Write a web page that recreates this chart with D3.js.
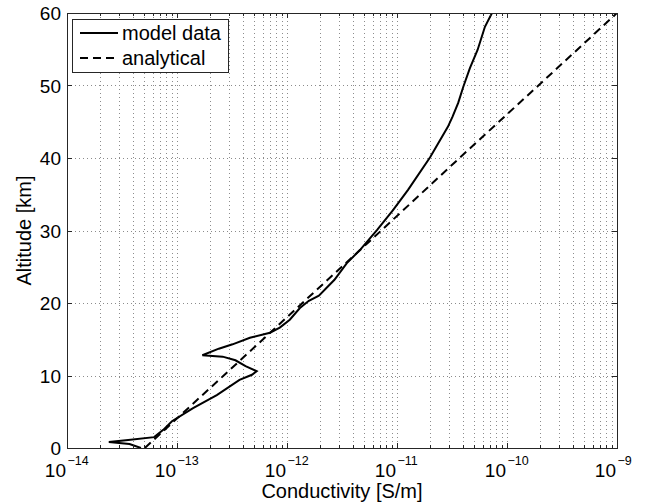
<!DOCTYPE html>
<html>
<head>
<meta charset="utf-8">
<script src="https://cdn.jsdelivr.net/npm/d3@7"></script>
<style>
    body { margin: 0; background: #ffffff; }
    text { font-family: "Liberation Sans", Arial, Helvetica, sans-serif; fill: #000; }
    .grid line { stroke: #8c8c8c; stroke-width: 1; stroke-dasharray: 1,3; }
    .tick line { stroke: #262626; stroke-width: 1; }
    .lineModel { fill: none; stroke: #000; stroke-width: 2; }
    .lineAnalytical { fill: none; stroke: #000; stroke-width: 2; stroke-dasharray: 8,5; }
</style>
</head>
<body>
<div id="graph"></div>
<script>

// model profile (altitude in km, conductivity in S/m)
var modelAlt   = [0, 0.55, 0.83, 1.1, 1.5, 2.5, 3.7, 5.5, 7.3, 9.4, 10.1, 10.6, 11.3, 12.1, 12.6, 12.8,
                  13.7, 14.3, 15.2, 15.9, 16.6, 17.7, 19.3, 20.3, 21.0, 23.2, 25.5, 27.3, 30.1, 32.8, 35.6,
                  40.1, 44.3, 45.7, 47.6, 49.8, 52.4, 54.9, 58.1, 60];
var modelSigma = [4.7e-14, 3.7e-14, 2.4e-14, 3.6e-14, 6.2e-14, 7.5e-14, 9.0e-14, 1.4e-13, 2.3e-13, 3.7e-13,
                  4.8e-13, 5.3e-13, 4.2e-13, 3.4e-13, 2.6e-13, 1.7e-13, 2.4e-13, 3.2e-13, 4.6e-13, 7.0e-13,
                  8.6e-13, 1.06e-12, 1.31e-12, 1.58e-12, 1.95e-12, 2.7e-12, 3.5e-12, 4.6e-12, 6.6e-12, 9.2e-12, 1.26e-11,
                  2.0e-11, 2.9e-11, 3.2e-11, 3.6e-11, 4.0e-11, 4.6e-11, 5.4e-11, 6.3e-11, 7.3e-11];

// analytical profile
var analyticalAlt   = [0, 10, 20, 30, 40, 50, 60];
var analyticalSigma = [5.1e-14, 2.66e-13, 1.38e-12, 7.2e-12, 3.7e-11, 1.93e-10, 1.0e-9];

// axes
var xDecades  = [-14, -13, -12, -11, -10, -9];
var yTicks    = [0, 10, 20, 30, 40, 50, 60];
var legendLabels = ['model data', 'analytical'];


function D3SVGApp ()
{
    var W = 651, H = 504;
    var left = 67, right = 617, top = 13, bottom = 448;

    var xScale = d3.scaleLog ()
                   .domain ([1e-14, 1e-9])
                   .range ([left, right]);

    var yScale = d3.scaleLinear ()
                   .domain ([0, 60])
                   .range ([bottom, top]);

    var svg = d3.select ('div#graph')
                .append ('svg')
                .attr ('width', W)
                .attr ('height', H);

    var majors = xDecades.map (function (e) { return Math.pow (10, e); });
    var minors = [];
    for (var i = 0; i < xDecades.length - 1; i++)
        for (var k = 2; k <= 9; k++)
            minors.push (k * Math.pow (10, xDecades[i]));

    // dotted grid (all decades + minor decades, major y)
    var grid = svg.append ('g').attr ('class', 'grid');

    grid.selectAll ('line.gx')
        .data (majors.concat (minors).filter (function (d) { return d > 1e-14 && d < 1e-9; }))
        .enter ()
        .append ('line')
        .attr ('x1', function (d) { return Math.round (xScale (d)) + 0.5; })
        .attr ('x2', function (d) { return Math.round (xScale (d)) + 0.5; })
        .attr ('y1', top)
        .attr ('y2', bottom);

    grid.selectAll ('line.gy')
        .data (yTicks.filter (function (d) { return d > 0 && d < 60; }))
        .enter ()
        .append ('line')
        .attr ('x1', left)
        .attr ('x2', right)
        .attr ('y1', function (d) { return Math.round (yScale (d)) + 0.5; })
        .attr ('y2', function (d) { return Math.round (yScale (d)) + 0.5; });

    // curves
    var lineModel = d3.line ()
                      .x (function (d) { return xScale (d.s); })
                      .y (function (d) { return yScale (d.z); });

    var modelData = modelAlt.map (function (z, i) { return { z: z, s: modelSigma[i] }; });
    var analyticalData = analyticalAlt.map (function (z, i) { return { z: z, s: analyticalSigma[i] }; });

    svg.append ('clipPath')
       .attr ('id', 'plotClip')
       .append ('rect')
       .attr ('x', left).attr ('y', top)
       .attr ('width', right - left).attr ('height', bottom - top);

    svg.append ('path')
       .datum (analyticalData)
       .attr ('class', 'lineAnalytical')
       .attr ('clip-path', 'url(#plotClip)')
       .attr ('d', lineModel);

    svg.append ('path')
       .datum (modelData)
       .attr ('class', 'lineModel')
       .attr ('clip-path', 'url(#plotClip)')
       .attr ('d', lineModel);

    // ticks, inward on all four sides
    var ticks = svg.append ('g').attr ('class', 'tick');

    var xTickData = majors.map (function (d) { return { v: d, len: 5 }; })
                          .concat (minors.map (function (d) { return { v: d, len: 3 }; }));

    [bottom, top].forEach (function (yy, side)
    {
        ticks.selectAll (null)
             .data (xTickData)
             .enter ()
             .append ('line')
             .attr ('x1', function (d) { return Math.round (xScale (d.v)) + 0.5; })
             .attr ('x2', function (d) { return Math.round (xScale (d.v)) + 0.5; })
             .attr ('y1', yy)
             .attr ('y2', function (d) { return side === 0 ? yy - d.len : yy + d.len; });
    });

    [left, right].forEach (function (xx, side)
    {
        ticks.selectAll (null)
             .data (yTicks)
             .enter ()
             .append ('line')
             .attr ('x1', xx)
             .attr ('x2', side === 0 ? xx + 5 : xx - 5)
             .attr ('y1', function (d) { return Math.round (yScale (d)) + 0.5; })
             .attr ('y2', function (d) { return Math.round (yScale (d)) + 0.5; });
    });

    // axes box
    svg.append ('rect')
       .attr ('x', left + 0.5)
       .attr ('y', top + 0.5)
       .attr ('width', right - left)
       .attr ('height', bottom - top)
       .attr ('fill', 'none')
       .attr ('stroke', '#262626')
       .attr ('stroke-width', 1);

    // tick labels
    svg.selectAll ('text.ylab')
       .data (yTicks)
       .enter ()
       .append ('text')
       .attr ('x', left - 6)
       .attr ('y', function (d) { return yScale (d) + 7; })
       .style ('text-anchor', 'end')
       .style ('font-size', '19px')
       .text (function (d) { return d; });

    var xl = svg.selectAll ('g.xlab')
                .data (xDecades)
                .enter ()
                .append ('g');

    xl.append ('text')
      .attr ('x', function (d) { return xScale (Math.pow (10, d)) - 1; })
      .attr ('y', 477)
      .style ('text-anchor', 'end')
      .style ('font-size', '19px')
      .text ('10');

    xl.append ('text')
      .attr ('x', function (d) { return xScale (Math.pow (10, d)) + 0.5; })
      .attr ('y', 465)
      .style ('font-size', '12.5px')
      .text (function (d) { return '\u2212' + Math.abs (d); });

    // axis labels
    svg.append ('text')
       .attr ('x', (left + right) / 2)
       .attr ('y', 498)
       .style ('text-anchor', 'middle')
       .style ('font-size', '20px')
       .text ('Conductivity [S/m]');

    svg.append ('text')
       .attr ('transform', 'translate(31,' + (top + bottom) / 2 + ') rotate(-90)')
       .style ('text-anchor', 'middle')
       .style ('font-size', '20px')
       .text ('Altitude [km]');

    // legend
    var lg = svg.append ('g');

    lg.append ('rect')
      .attr ('x', 72.5)
      .attr ('y', 19.5)
      .attr ('width', 156)
      .attr ('height', 53)
      .attr ('fill', '#fff')
      .attr ('stroke', '#262626')
      .attr ('stroke-width', 1);

    var rows = lg.selectAll ('g.row')
                 .data (legendLabels)
                 .enter ()
                 .append ('g')
                 .attr ('transform', function (d, i) { return 'translate(0,' + (33 + 25 * i) + ')'; });

    rows.append ('line')
        .attr ('x1', 80).attr ('x2', 118)
        .attr ('y1', 0).attr ('y2', 0)
        .attr ('class', function (d, i) { return i === 0 ? 'lineModel' : 'lineAnalytical'; });

    rows.append ('text')
        .attr ('x', 122)
        .attr ('y', 7)
        .style ('font-size', '20px')
        .text (function (d) { return d; });
}

D3SVGApp ();
</script>
</body>
</html>
